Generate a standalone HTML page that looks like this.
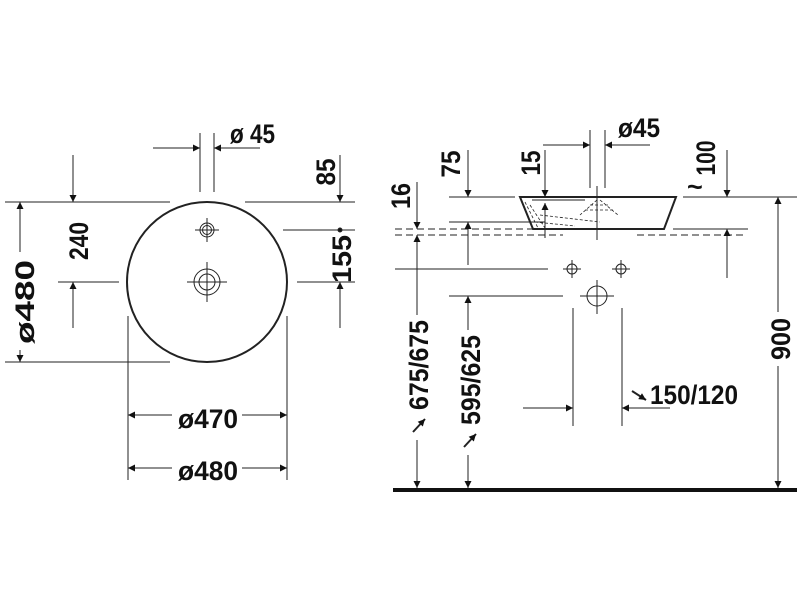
<!DOCTYPE html>
<html><head><meta charset="utf-8"><style>
body{margin:0;background:#fff}
svg{display:block}
text{font-family:"Liberation Sans",sans-serif;font-weight:bold;font-size:27px;fill:#111}
</style></head><body>
<svg width="800" height="600" viewBox="0 0 800 600" xmlns="http://www.w3.org/2000/svg">
<defs>
<marker id="a" viewBox="0 0 10 10" refX="10" refY="5" markerWidth="13" markerHeight="7" markerUnits="userSpaceOnUse" orient="auto"><path d="M0,0 L10,5 L0,10 z" fill="#111"/></marker>
</defs>
<g stroke="#222" stroke-width="1" fill="none">
<circle cx="207" cy="282" r="80" stroke-width="2"/>
<circle cx="207" cy="230" r="7"/><circle cx="207" cy="230" r="4.5"/>
<line x1="195" y1="230" x2="219" y2="230"/><line x1="207" y1="218" x2="207" y2="242"/>
<circle cx="207" cy="282" r="13"/><circle cx="207" cy="282" r="8"/>
<line x1="187" y1="282" x2="227" y2="282"/><line x1="207" y1="262" x2="207" y2="302"/>
<line x1="5" y1="202" x2="170" y2="202"/><line x1="245" y1="202" x2="355" y2="202"/>
<line x1="5" y1="362" x2="170" y2="362"/>
<line x1="20" y1="252" x2="20" y2="202" marker-end="url(#a)"/>
<line x1="20" y1="350" x2="20" y2="362" marker-end="url(#a)"/>
<line x1="73" y1="155" x2="73" y2="202" marker-end="url(#a)"/>
<line x1="58" y1="282" x2="119" y2="282"/>
<line x1="73" y1="328" x2="73" y2="282" marker-end="url(#a)"/>
<line x1="200" y1="133" x2="200" y2="192"/><line x1="214" y1="133" x2="214" y2="192"/>
<line x1="153" y1="148" x2="200" y2="148" marker-end="url(#a)"/>
<line x1="260" y1="148" x2="214" y2="148" marker-end="url(#a)"/>
<line x1="340" y1="155" x2="340" y2="202" marker-end="url(#a)"/>
<line x1="283" y1="230" x2="355" y2="230"/>
<circle cx="340" cy="230" r="2" fill="#111"/>
<line x1="297" y1="282" x2="355" y2="282"/>
<line x1="340" y1="328" x2="340" y2="282" marker-end="url(#a)"/>
<line x1="128" y1="316" x2="128" y2="480"/><line x1="287" y1="316" x2="287" y2="480"/>
<line x1="172" y1="415" x2="128" y2="415" marker-end="url(#a)"/>
<line x1="242" y1="415" x2="287" y2="415" marker-end="url(#a)"/>
<line x1="172" y1="468" x2="128" y2="468" marker-end="url(#a)"/>
<line x1="242" y1="468" x2="287" y2="468" marker-end="url(#a)"/>
<path d="M520 197 L676 197 L664 229 L533 229 Z" stroke-width="2"/>
<g stroke-dasharray="3,2" stroke-width="0.8">
<path d="M525 202 L538 228 M530 205 L545 228 M540 215 L600 222 M535 222 L575 226 M585 210 L615 210 M590 205 L610 205 M597 200 L580 215 M600 200 L618 215"/>
</g>
<line x1="532" y1="200" x2="585" y2="200"/>
<line x1="597" y1="186" x2="597" y2="240"/>
<g stroke-dasharray="7,4">
<line x1="395" y1="229" x2="563" y2="229"/><line x1="395" y1="235" x2="563" y2="235"/>
<line x1="637" y1="235" x2="745" y2="235"/>
</g>
<line x1="449" y1="197" x2="515" y2="197"/>
<line x1="449" y1="222" x2="545" y2="222"/>
<line x1="683" y1="197" x2="797" y2="197"/>
<line x1="673" y1="229" x2="748" y2="229"/>
<line x1="417" y1="182" x2="417" y2="229" marker-end="url(#a)"/>
<line x1="417" y1="269" x2="417" y2="235" marker-end="url(#a)"/>
<line x1="468" y1="150" x2="468" y2="197" marker-end="url(#a)"/>
<line x1="468" y1="265" x2="468" y2="222" marker-end="url(#a)"/>
<line x1="545" y1="150" x2="545" y2="197" marker-end="url(#a)"/>
<line x1="545" y1="238" x2="545" y2="203" marker-end="url(#a)"/>
<line x1="590" y1="130" x2="590" y2="188"/><line x1="605" y1="130" x2="605" y2="188"/>
<line x1="543" y1="145" x2="590" y2="145" marker-end="url(#a)"/>
<line x1="650" y1="145" x2="605" y2="145" marker-end="url(#a)"/>
<line x1="727" y1="150" x2="727" y2="197" marker-end="url(#a)"/>
<line x1="727" y1="278" x2="727" y2="229" marker-end="url(#a)"/>
<line x1="778" y1="312" x2="778" y2="197" marker-end="url(#a)"/>
<line x1="778" y1="366" x2="778" y2="488" marker-end="url(#a)"/>
<line x1="395" y1="269" x2="548" y2="269"/>
<circle cx="572" cy="269" r="5"/><line x1="563" y1="269" x2="581" y2="269"/><line x1="572" y1="260" x2="572" y2="278"/>
<circle cx="621" cy="269" r="5"/><line x1="612" y1="269" x2="630" y2="269"/><line x1="621" y1="260" x2="621" y2="278"/>
<line x1="449" y1="296" x2="563" y2="296"/>
<circle cx="597" cy="296" r="10"/><line x1="580" y1="296" x2="614" y2="296"/><line x1="597" y1="280" x2="597" y2="314"/>
<line x1="573" y1="308" x2="573" y2="426"/><line x1="622" y1="308" x2="622" y2="426"/>
<line x1="523" y1="408" x2="573" y2="408" marker-end="url(#a)"/>
<line x1="670" y1="408" x2="622" y2="408" marker-end="url(#a)"/>
<line x1="417" y1="269" x2="417" y2="315"/>
<line x1="417" y1="440" x2="417" y2="488" marker-end="url(#a)"/>
<line x1="468" y1="330" x2="468" y2="296" marker-end="url(#a)"/>
<line x1="468" y1="455" x2="468" y2="488" marker-end="url(#a)"/>
<line x1="413" y1="432" x2="425" y2="419" marker-end="url(#a)" stroke-width="2"/>
<line x1="464" y1="447" x2="476" y2="434" marker-end="url(#a)" stroke-width="2"/>
<line x1="632" y1="391" x2="646" y2="400" marker-end="url(#a)" stroke-width="2"/>
</g>
<rect x="393" y="488" width="404" height="4" fill="#111"/>
<text x="230" y="143" font-size="28" textLength="45" lengthAdjust="spacingAndGlyphs">ø 45</text>
<text x="178" y="428" textLength="60" lengthAdjust="spacingAndGlyphs">ø470</text>
<text x="178" y="480" textLength="60" lengthAdjust="spacingAndGlyphs">ø480</text>
<text transform="translate(34,302) rotate(-90)" text-anchor="middle" font-size="26" textLength="84" lengthAdjust="spacingAndGlyphs">ø480</text>
<text transform="translate(88,241) rotate(-90)" text-anchor="middle" font-size="28" textLength="38" lengthAdjust="spacingAndGlyphs">240</text>
<text transform="translate(335,172) rotate(-90)" text-anchor="middle" font-size="28" textLength="27" lengthAdjust="spacingAndGlyphs">85</text>
<text transform="translate(351,259) rotate(-90)" text-anchor="middle" textLength="48" lengthAdjust="spacingAndGlyphs">155</text>
<text x="618" y="137" font-size="28" textLength="42" lengthAdjust="spacingAndGlyphs">ø45</text>
<text transform="translate(410,196) rotate(-90)" text-anchor="middle" font-size="28" textLength="26" lengthAdjust="spacingAndGlyphs">16</text>
<text transform="translate(460,164) rotate(-90)" text-anchor="middle" font-size="28" textLength="27" lengthAdjust="spacingAndGlyphs">75</text>
<text transform="translate(540,163) rotate(-90)" text-anchor="middle" font-size="28" textLength="25" lengthAdjust="spacingAndGlyphs">15</text>
<text transform="translate(715,158) rotate(-90)" text-anchor="middle" font-size="28" textLength="35" lengthAdjust="spacingAndGlyphs">100</text>
<text x="687" y="196" font-size="22">~</text>
<text transform="translate(790,339) rotate(-90)" text-anchor="middle" textLength="42" lengthAdjust="spacingAndGlyphs">900</text>
<text transform="translate(428,365) rotate(-90)" text-anchor="middle" textLength="90" lengthAdjust="spacingAndGlyphs">675/675</text>
<text transform="translate(480,380) rotate(-90)" text-anchor="middle" textLength="90" lengthAdjust="spacingAndGlyphs">595/625</text>
<text x="650" y="404" textLength="88" lengthAdjust="spacingAndGlyphs">150/120</text>
</svg>
</body></html>
